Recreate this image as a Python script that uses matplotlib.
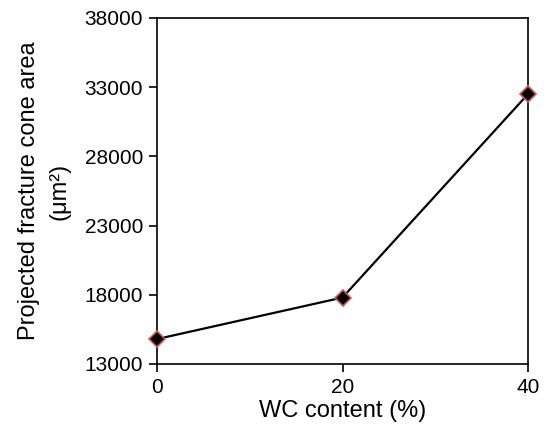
import matplotlib.pyplot as plt

plt.rcParams['font.family'] = ['Liberation Sans', 'DejaVu Sans']

wc_content = [0, 20, 40]
cone_area = [14800, 17800, 32500]

y_ticks = [13000, 18000, 23000, 28000, 33000, 38000]
x_ticks = [0, 20, 40]

fig = plt.figure(figsize=(5.44, 4.38), dpi=100)
ax = fig.add_axes([0.2886, 0.169, 0.682, 0.79])

ax.plot(wc_content, cone_area, color='black', linewidth=1.6,
        marker='D', markersize=8, markerfacecolor='black',
        markeredgecolor='#d05a5a', markeredgewidth=1.2, clip_on=False, zorder=3)

ax.set_xlim(0, 40)
ax.set_ylim(13000, 38000)
ax.set_xticks(x_ticks)
ax.set_yticks(y_ticks)
ax.tick_params(direction='out', length=6, width=1.2, labelsize=15, pad=4)
for s in ax.spines.values():
    s.set_linewidth(1.2)

ax.set_xlabel('WC content (%)', fontsize=17, labelpad=2)
ax.set_ylabel('Projected fracture cone area\n(μm²)', fontsize=17, labelpad=10,
              linespacing=1.5)

fig.savefig('out.png', dpi=100)
